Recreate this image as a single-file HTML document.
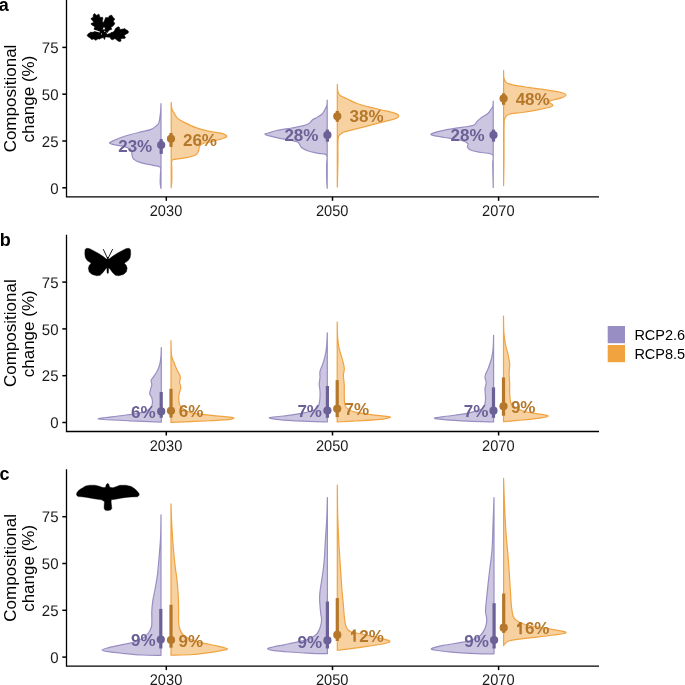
<!DOCTYPE html><html><head><meta charset="utf-8"><style>html,body{margin:0;padding:0;background:#fff;width:685px;height:685px;overflow:hidden}svg{display:block;will-change:transform}text{font-family:"Liberation Sans",sans-serif}</style></head><body>
<svg width="685" height="685" viewBox="0 0 685 685">
<rect width="685" height="685" fill="#fff"/>
<path d="M161.00,103.70 C160.92,105.22 160.85,109.65 160.50,112.80 C160.15,115.95 159.63,120.38 158.90,122.60 C158.17,124.82 157.50,124.93 156.10,126.10 C154.70,127.27 152.85,128.67 150.50,129.60 C148.15,130.53 145.28,130.88 142.00,131.70 C138.72,132.52 134.53,133.45 130.80,134.50 C127.07,135.55 122.63,136.90 119.60,138.00 C116.57,139.10 114.28,140.27 112.60,141.10 C110.92,141.93 109.50,142.45 109.50,143.00 C109.50,143.55 110.68,143.93 112.60,144.40 C114.52,144.87 118.43,145.22 121.00,145.80 C123.57,146.38 126.25,146.97 128.00,147.90 C129.75,148.83 130.83,150.23 131.50,151.40 C132.17,152.57 131.65,153.62 132.00,154.90 C132.35,156.18 132.17,157.82 133.60,159.10 C135.03,160.38 137.32,161.55 140.60,162.60 C143.88,163.65 150.02,164.58 153.30,165.40 C156.58,166.22 159.12,165.98 160.30,167.50 C161.48,169.02 160.42,171.93 160.40,174.50 C160.38,177.07 160.10,180.57 160.20,182.90 C160.30,185.23 160.87,187.57 161.00,188.50 Z" fill="#ccc6e1" stroke="#998ec3" stroke-width="1.2" stroke-linejoin="round"/>
<path d="M171.20,102.30 C171.33,103.47 171.40,107.32 172.00,109.30 C172.60,111.28 173.87,112.68 174.80,114.20 C175.73,115.72 175.97,117.00 177.60,118.40 C179.23,119.80 181.57,121.07 184.60,122.60 C187.63,124.13 191.60,126.13 195.80,127.60 C200.00,129.07 205.60,130.48 209.80,131.40 C214.00,132.32 218.18,132.33 221.00,133.10 C223.82,133.87 226.22,135.18 226.70,136.00 C227.18,136.82 226.23,137.12 223.90,138.00 C221.57,138.88 216.12,140.40 212.70,141.30 C209.28,142.20 205.58,142.58 203.40,143.40 C201.22,144.22 200.40,144.98 199.60,146.20 C198.80,147.42 199.23,149.25 198.60,150.70 C197.97,152.15 197.90,153.73 195.80,154.90 C193.70,156.07 189.27,157.00 186.00,157.70 C182.73,158.40 178.55,158.63 176.20,159.10 C173.85,159.57 172.63,158.87 171.90,160.50 C171.17,162.13 171.82,165.63 171.80,168.90 C171.78,172.17 171.90,176.95 171.80,180.10 C171.70,183.25 171.30,186.52 171.20,187.80 Z" fill="#f8d1a0" stroke="#f1a340" stroke-width="1.2" stroke-linejoin="round"/>
<path d="M327.20,100.10 C327.13,101.02 327.22,103.95 326.80,105.60 C326.38,107.25 325.53,108.55 324.70,110.00 C323.87,111.45 323.07,113.07 321.80,114.30 C320.53,115.53 318.63,116.48 317.10,117.40 C315.57,118.32 313.97,118.78 312.60,119.80 C311.23,120.82 310.38,122.52 308.90,123.50 C307.42,124.48 306.55,124.95 303.70,125.70 C300.85,126.45 296.27,127.20 291.80,128.00 C287.33,128.80 280.87,129.63 276.90,130.50 C272.93,131.37 269.98,132.58 268.00,133.20 C266.02,133.82 264.77,133.75 265.00,134.20 C265.23,134.65 266.92,135.20 269.40,135.90 C271.88,136.60 276.17,137.67 279.90,138.40 C283.63,139.13 288.83,139.68 291.80,140.30 C294.77,140.92 296.33,141.30 297.70,142.10 C299.07,142.90 299.25,144.10 300.00,145.10 C300.75,146.10 300.83,147.12 302.20,148.10 C303.57,149.08 305.47,150.13 308.20,151.00 C310.93,151.87 315.53,152.60 318.60,153.30 C321.67,154.00 325.27,153.35 326.60,155.20 C327.93,157.05 326.58,160.38 326.60,164.40 C326.62,168.42 326.60,175.32 326.70,179.30 C326.80,183.28 327.12,186.80 327.20,188.30 Z" fill="#ccc6e1" stroke="#998ec3" stroke-width="1.2" stroke-linejoin="round"/>
<path d="M337.30,84.30 C337.38,85.47 337.30,89.43 337.80,91.30 C338.30,93.17 338.77,94.25 340.30,95.50 C341.83,96.75 344.22,97.47 347.00,98.80 C349.78,100.13 353.40,102.17 357.00,103.50 C360.60,104.83 364.45,105.72 368.60,106.80 C372.75,107.88 377.73,108.98 381.90,110.00 C386.07,111.02 390.82,112.00 393.60,112.90 C396.38,113.80 398.33,114.42 398.60,115.40 C398.87,116.38 397.43,117.82 395.20,118.80 C392.97,119.78 388.80,120.37 385.20,121.30 C381.60,122.23 376.92,123.52 373.60,124.40 C370.28,125.28 368.90,125.68 365.30,126.60 C361.70,127.52 355.80,128.87 352.00,129.90 C348.20,130.93 344.73,131.75 342.50,132.80 C340.27,133.85 339.37,134.23 338.60,136.20 C337.83,138.17 338.02,140.43 337.90,144.60 C337.78,148.77 338.00,154.13 337.90,161.20 C337.80,168.27 337.40,182.70 337.30,187.00 Z" fill="#f8d1a0" stroke="#f1a340" stroke-width="1.2" stroke-linejoin="round"/>
<path d="M493.20,101.20 C493.13,102.07 493.25,104.92 492.80,106.40 C492.35,107.88 491.37,108.87 490.50,110.10 C489.63,111.33 489.08,112.57 487.60,113.80 C486.12,115.03 483.35,116.25 481.60,117.50 C479.85,118.75 478.33,120.05 477.10,121.30 C475.87,122.55 475.68,124.13 474.20,125.00 C472.72,125.87 471.43,125.93 468.20,126.50 C464.97,127.07 459.27,127.67 454.80,128.40 C450.33,129.13 445.37,129.93 441.40,130.90 C437.43,131.87 431.75,133.32 431.00,134.20 C430.25,135.08 433.68,135.50 436.90,136.20 C440.12,136.90 446.08,137.67 450.30,138.40 C454.52,139.13 459.27,139.73 462.20,140.60 C465.13,141.47 467.02,142.48 467.90,143.60 C468.78,144.72 466.95,146.18 467.50,147.30 C468.05,148.42 468.85,149.43 471.20,150.30 C473.55,151.17 478.03,151.75 481.60,152.50 C485.17,153.25 490.75,152.82 492.60,154.80 C494.45,156.78 492.60,158.95 492.70,164.40 C492.80,169.85 493.12,183.65 493.20,187.50 Z" fill="#ccc6e1" stroke="#998ec3" stroke-width="1.2" stroke-linejoin="round"/>
<path d="M503.60,70.60 C503.65,71.83 503.45,76.00 503.90,78.00 C504.35,80.00 504.82,81.45 506.30,82.60 C507.78,83.75 509.23,84.10 512.80,84.90 C516.37,85.70 522.43,86.60 527.70,87.40 C532.97,88.20 539.15,88.93 544.40,89.70 C549.65,90.47 555.60,91.13 559.20,92.00 C562.80,92.87 565.65,93.92 566.00,94.90 C566.35,95.88 563.72,96.98 561.30,97.90 C558.88,98.82 553.55,99.68 551.50,100.40 C549.45,101.12 548.78,101.43 549.00,102.20 C549.22,102.97 552.55,104.20 552.80,105.00 C553.05,105.80 552.83,106.23 550.50,107.00 C548.17,107.77 543.53,108.68 538.80,109.60 C534.07,110.52 527.05,111.73 522.10,112.50 C517.15,113.27 511.95,113.30 509.10,114.20 C506.25,115.10 505.83,116.20 505.00,117.90 C504.17,119.60 504.27,117.75 504.10,124.40 C503.93,131.05 504.08,147.60 504.00,157.80 C503.92,168.00 503.67,180.97 503.60,185.60 Z" fill="#f8d1a0" stroke="#f1a340" stroke-width="1.2" stroke-linejoin="round"/>
<rect x="159.60" y="139.10" width="3.2" height="14.80" fill="#6b6197"/>
<circle cx="161.20" cy="145.00" r="4.1" fill="#6b6197"/>
<rect x="169.40" y="133.00" width="3.2" height="13.90" fill="#b5782a"/>
<circle cx="171.00" cy="138.80" r="4.1" fill="#b5782a"/>
<rect x="325.80" y="129.60" width="3.2" height="12.10" fill="#6b6197"/>
<circle cx="327.40" cy="135.00" r="4.1" fill="#6b6197"/>
<rect x="335.70" y="110.90" width="3.2" height="10.90" fill="#b5782a"/>
<circle cx="337.30" cy="116.30" r="4.1" fill="#b5782a"/>
<rect x="491.90" y="129.60" width="3.2" height="12.00" fill="#6b6197"/>
<circle cx="493.50" cy="135.00" r="4.1" fill="#6b6197"/>
<rect x="502.00" y="93.30" width="3.2" height="11.50" fill="#b5782a"/>
<circle cx="503.60" cy="98.50" r="4.1" fill="#b5782a"/>
<text x="118.20" y="151.85" font-size="17" font-weight="700" fill="#6b6197">23%</text>
<text x="182.95" y="145.75" font-size="17" font-weight="700" fill="#b5782a">26%</text>
<text x="284.40" y="141.40" font-size="17" font-weight="700" fill="#6b6197">28%</text>
<text x="349.60" y="122.10" font-size="17" font-weight="700" fill="#b5782a">38%</text>
<text x="450.55" y="141.40" font-size="17" font-weight="700" fill="#6b6197">28%</text>
<text x="515.65" y="105.00" font-size="17" font-weight="700" fill="#b5782a">48%</text>
<path d="M66.5,0.00 V196.80 H599" fill="none" stroke="#000" stroke-width="1.3" stroke-linecap="butt" stroke-linejoin="miter"/>
<line x1="62.3" y1="187.80" x2="66.5" y2="187.80" stroke="#000" stroke-width="1.5"/>
<text transform="translate(58.5,193.55) scale(1,1.03)" text-rendering="geometricPrecision" font-size="15" text-anchor="end" fill="#1a1a1a">0</text>
<line x1="62.3" y1="141.00" x2="66.5" y2="141.00" stroke="#000" stroke-width="1.5"/>
<text transform="translate(58.5,146.75) scale(1,1.03)" text-rendering="geometricPrecision" font-size="15" text-anchor="end" fill="#1a1a1a">25</text>
<line x1="62.3" y1="94.20" x2="66.5" y2="94.20" stroke="#000" stroke-width="1.5"/>
<text transform="translate(58.5,99.95) scale(1,1.03)" text-rendering="geometricPrecision" font-size="15" text-anchor="end" fill="#1a1a1a">50</text>
<line x1="62.3" y1="47.40" x2="66.5" y2="47.40" stroke="#000" stroke-width="1.5"/>
<text transform="translate(58.5,53.15) scale(1,1.03)" text-rendering="geometricPrecision" font-size="15" text-anchor="end" fill="#1a1a1a">75</text>
<line x1="166.3" y1="196.80" x2="166.3" y2="200.80" stroke="#000" stroke-width="1.5"/>
<text transform="translate(166.00,215.80) scale(0.975,1.03)" text-rendering="geometricPrecision" font-size="15" text-anchor="middle" fill="#1a1a1a">2030</text>
<line x1="332.5" y1="196.80" x2="332.5" y2="200.80" stroke="#000" stroke-width="1.5"/>
<text transform="translate(332.20,215.80) scale(0.975,1.03)" text-rendering="geometricPrecision" font-size="15" text-anchor="middle" fill="#1a1a1a">2050</text>
<line x1="498.6" y1="196.80" x2="498.6" y2="200.80" stroke="#000" stroke-width="1.5"/>
<text transform="translate(498.30,215.80) scale(0.975,1.03)" text-rendering="geometricPrecision" font-size="15" text-anchor="middle" fill="#1a1a1a">2070</text>
<text transform="translate(15.8,98.50) rotate(-90)" font-size="17" text-anchor="middle" fill="#000">Compositional</text>
<text transform="translate(34.2,99.10) rotate(-90)" font-size="17" text-anchor="middle" fill="#000">change (%)</text>
<text x="-1.3" y="10.80" font-size="18" font-weight="700" fill="#000">a</text>
<path d="M161.30,347.60 C161.23,349.18 161.18,354.20 160.90,357.10 C160.62,360.00 160.25,362.60 159.60,365.00 C158.95,367.40 158.08,369.43 157.00,371.50 C155.92,373.57 154.08,375.87 153.10,377.40 C152.12,378.93 151.32,379.48 151.10,380.70 C150.88,381.92 151.92,383.17 151.80,384.70 C151.68,386.23 150.73,388.37 150.40,389.90 C150.07,391.43 149.57,392.58 149.80,393.90 C150.03,395.22 151.37,396.27 151.80,397.80 C152.23,399.33 152.63,401.35 152.40,403.10 C152.17,404.85 152.03,406.77 150.40,408.30 C148.77,409.83 147.20,411.10 142.60,412.30 C138.00,413.50 128.93,414.63 122.80,415.50 C116.67,416.37 109.85,416.98 105.80,417.50 C101.75,418.02 98.95,418.27 98.50,418.60 C98.05,418.93 97.95,419.13 103.10,419.50 C108.25,419.87 119.70,420.37 129.40,420.80 C139.10,421.23 155.98,421.88 161.30,422.10 Z" fill="#ccc6e1" stroke="#998ec3" stroke-width="1.2" stroke-linejoin="round"/>
<path d="M171.00,340.50 C171.10,343.05 171.08,352.10 171.60,355.80 C172.12,359.50 173.22,360.38 174.10,362.70 C174.98,365.02 175.87,367.38 176.90,369.70 C177.93,372.02 179.85,374.52 180.30,376.60 C180.75,378.68 179.52,380.35 179.60,382.20 C179.68,384.05 180.90,385.63 180.80,387.70 C180.70,389.77 179.30,392.28 179.00,394.60 C178.70,396.92 178.67,399.52 179.00,401.60 C179.33,403.68 179.05,405.25 181.00,407.10 C182.95,408.95 185.62,411.32 190.70,412.70 C195.78,414.08 205.02,414.67 211.50,415.40 C217.98,416.13 225.90,416.63 229.60,417.10 C233.30,417.57 233.93,417.78 233.70,418.20 C233.47,418.62 233.05,419.13 228.20,419.60 C223.35,420.07 214.13,420.53 204.60,421.00 C195.07,421.47 176.60,422.17 171.00,422.40 Z" fill="#f8d1a0" stroke="#f1a340" stroke-width="1.2" stroke-linejoin="round"/>
<path d="M327.30,332.80 C327.17,335.22 326.90,343.28 326.50,347.30 C326.10,351.32 325.58,353.95 324.90,356.90 C324.22,359.85 323.22,362.58 322.40,365.00 C321.58,367.42 320.40,369.27 320.00,371.40 C319.60,373.53 320.13,375.67 320.00,377.80 C319.87,379.93 319.20,382.05 319.20,384.20 C319.20,386.35 319.87,388.55 320.00,390.70 C320.13,392.85 320.13,394.97 320.00,397.10 C319.87,399.23 319.87,401.50 319.20,403.50 C318.53,405.50 318.67,407.50 316.00,409.10 C313.33,410.70 308.55,411.95 303.20,413.10 C297.85,414.25 289.52,415.25 283.90,416.00 C278.28,416.75 270.30,417.00 269.50,417.60 C268.70,418.20 273.48,419.00 279.10,419.60 C284.72,420.20 295.17,420.80 303.20,421.20 C311.23,421.60 323.28,421.87 327.30,422.00 Z" fill="#ccc6e1" stroke="#998ec3" stroke-width="1.2" stroke-linejoin="round"/>
<path d="M337.20,322.00 C337.27,324.47 337.27,332.37 337.60,336.80 C337.93,341.23 338.37,344.68 339.20,348.60 C340.03,352.52 341.75,356.95 342.60,360.30 C343.45,363.65 344.17,366.18 344.30,368.70 C344.43,371.22 343.40,372.60 343.40,375.40 C343.40,378.20 344.15,382.15 344.30,385.50 C344.45,388.85 344.08,392.00 344.30,395.50 C344.52,399.00 343.78,403.72 345.60,406.50 C347.42,409.28 349.97,410.73 355.20,412.20 C360.43,413.67 371.13,414.50 377.00,415.30 C382.87,416.10 389.85,416.32 390.40,417.00 C390.95,417.68 386.17,418.73 380.30,419.40 C374.43,420.07 362.38,420.57 355.20,421.00 C348.02,421.43 340.20,421.83 337.20,422.00 Z" fill="#f8d1a0" stroke="#f1a340" stroke-width="1.2" stroke-linejoin="round"/>
<path d="M493.60,335.30 C493.52,337.57 493.45,345.03 493.10,348.90 C492.75,352.77 492.30,355.28 491.50,358.50 C490.70,361.72 489.30,365.52 488.30,368.20 C487.30,370.88 486.05,373.00 485.50,374.60 C484.95,376.20 484.88,376.47 485.00,377.80 C485.12,379.13 486.20,380.72 486.20,382.60 C486.20,384.48 485.12,386.68 485.00,389.10 C484.88,391.52 485.50,394.70 485.50,397.10 C485.50,399.50 485.62,401.50 485.00,403.50 C484.38,405.50 484.60,407.50 481.80,409.10 C479.00,410.70 473.68,411.95 468.20,413.10 C462.72,414.25 454.52,415.18 448.90,416.00 C443.28,416.82 435.30,417.40 434.50,418.00 C433.70,418.60 438.48,419.07 444.10,419.60 C449.72,420.13 459.95,420.80 468.20,421.20 C476.45,421.60 489.37,421.87 493.60,422.00 Z" fill="#ccc6e1" stroke="#998ec3" stroke-width="1.2" stroke-linejoin="round"/>
<path d="M503.50,316.10 C503.57,318.88 503.55,327.98 503.90,332.80 C504.25,337.62 504.87,341.22 505.60,345.00 C506.33,348.78 507.62,352.28 508.30,355.50 C508.98,358.72 509.57,361.38 509.70,364.30 C509.83,367.22 509.10,369.78 509.10,373.00 C509.10,376.22 509.60,380.08 509.70,383.60 C509.80,387.12 509.35,390.60 509.70,394.10 C510.05,397.60 509.70,401.83 511.80,404.60 C513.90,407.37 517.63,409.10 522.30,410.70 C526.97,412.30 535.48,413.32 539.80,414.20 C544.12,415.08 548.20,415.33 548.20,416.00 C548.20,416.67 544.12,417.53 539.80,418.20 C535.48,418.87 528.35,419.42 522.30,420.00 C516.25,420.58 506.63,421.42 503.50,421.70 Z" fill="#f8d1a0" stroke="#f1a340" stroke-width="1.2" stroke-linejoin="round"/>
<rect x="159.60" y="392.00" width="3.2" height="25.80" fill="#6b6197"/>
<circle cx="161.20" cy="411.40" r="4.1" fill="#6b6197"/>
<rect x="169.40" y="388.80" width="3.2" height="28.80" fill="#b5782a"/>
<circle cx="171.00" cy="410.80" r="4.1" fill="#b5782a"/>
<rect x="325.80" y="386.00" width="3.2" height="31.80" fill="#6b6197"/>
<circle cx="327.40" cy="410.50" r="4.1" fill="#6b6197"/>
<rect x="335.60" y="380.10" width="3.2" height="37.00" fill="#b5782a"/>
<circle cx="337.20" cy="408.80" r="4.1" fill="#b5782a"/>
<rect x="491.90" y="387.40" width="3.2" height="30.40" fill="#6b6197"/>
<circle cx="493.50" cy="410.70" r="4.1" fill="#6b6197"/>
<rect x="501.90" y="377.40" width="3.2" height="38.30" fill="#b5782a"/>
<circle cx="503.50" cy="406.30" r="4.1" fill="#b5782a"/>
<text x="131.00" y="417.75" font-size="17" font-weight="700" fill="#6b6197">6%</text>
<text x="178.85" y="417.00" font-size="17" font-weight="700" fill="#b5782a">6%</text>
<text x="297.40" y="416.60" font-size="17" font-weight="700" fill="#6b6197">7%</text>
<text x="344.50" y="415.40" font-size="17" font-weight="700" fill="#b5782a">7%</text>
<text x="463.70" y="416.60" font-size="17" font-weight="700" fill="#6b6197">7%</text>
<text x="510.90" y="412.80" font-size="17" font-weight="700" fill="#b5782a">9%</text>
<path d="M66.5,234.70 V431.50 H599" fill="none" stroke="#000" stroke-width="1.3" stroke-linecap="butt" stroke-linejoin="miter"/>
<line x1="62.3" y1="422.50" x2="66.5" y2="422.50" stroke="#000" stroke-width="1.5"/>
<text transform="translate(58.5,428.25) scale(1,1.03)" text-rendering="geometricPrecision" font-size="15" text-anchor="end" fill="#1a1a1a">0</text>
<line x1="62.3" y1="375.70" x2="66.5" y2="375.70" stroke="#000" stroke-width="1.5"/>
<text transform="translate(58.5,381.45) scale(1,1.03)" text-rendering="geometricPrecision" font-size="15" text-anchor="end" fill="#1a1a1a">25</text>
<line x1="62.3" y1="328.90" x2="66.5" y2="328.90" stroke="#000" stroke-width="1.5"/>
<text transform="translate(58.5,334.65) scale(1,1.03)" text-rendering="geometricPrecision" font-size="15" text-anchor="end" fill="#1a1a1a">50</text>
<line x1="62.3" y1="282.10" x2="66.5" y2="282.10" stroke="#000" stroke-width="1.5"/>
<text transform="translate(58.5,287.85) scale(1,1.03)" text-rendering="geometricPrecision" font-size="15" text-anchor="end" fill="#1a1a1a">75</text>
<line x1="166.3" y1="431.50" x2="166.3" y2="435.50" stroke="#000" stroke-width="1.5"/>
<text transform="translate(166.00,450.50) scale(0.975,1.03)" text-rendering="geometricPrecision" font-size="15" text-anchor="middle" fill="#1a1a1a">2030</text>
<line x1="332.5" y1="431.50" x2="332.5" y2="435.50" stroke="#000" stroke-width="1.5"/>
<text transform="translate(332.20,450.50) scale(0.975,1.03)" text-rendering="geometricPrecision" font-size="15" text-anchor="middle" fill="#1a1a1a">2050</text>
<line x1="498.6" y1="431.50" x2="498.6" y2="435.50" stroke="#000" stroke-width="1.5"/>
<text transform="translate(498.30,450.50) scale(0.975,1.03)" text-rendering="geometricPrecision" font-size="15" text-anchor="middle" fill="#1a1a1a">2070</text>
<text transform="translate(15.8,333.20) rotate(-90)" font-size="17" text-anchor="middle" fill="#000">Compositional</text>
<text transform="translate(34.2,333.80) rotate(-90)" font-size="17" text-anchor="middle" fill="#000">change (%)</text>
<text x="-0.2" y="245.50" font-size="18" font-weight="700" fill="#000">b</text>
<path d="M161.00,514.90 C160.93,518.58 160.90,530.20 160.60,537.00 C160.30,543.80 159.72,549.47 159.20,555.70 C158.68,561.93 158.17,568.93 157.50,574.40 C156.83,579.87 155.97,584.22 155.20,588.50 C154.43,592.78 153.47,596.30 152.90,600.10 C152.33,603.90 151.97,607.72 151.80,611.30 C151.63,614.88 151.97,618.98 151.90,621.60 C151.83,624.22 151.93,625.18 151.40,627.00 C150.87,628.82 150.07,630.67 148.70,632.50 C147.33,634.33 145.77,636.35 143.20,638.00 C140.63,639.65 137.13,641.22 133.30,642.40 C129.47,643.58 124.40,644.20 120.20,645.10 C116.00,646.00 111.12,646.98 108.10,647.80 C105.08,648.62 102.10,649.35 102.10,650.00 C102.10,650.65 104.72,651.15 108.10,651.70 C111.48,652.25 116.73,652.75 122.40,653.30 C128.07,653.85 135.67,654.67 142.10,655.00 C148.53,655.33 157.85,655.25 161.00,655.30 Z" fill="#ccc6e1" stroke="#998ec3" stroke-width="1.2" stroke-linejoin="round"/>
<path d="M171.00,503.90 C171.13,507.48 171.43,518.32 171.80,525.40 C172.17,532.48 172.67,539.78 173.20,546.40 C173.73,553.02 174.38,559.65 175.00,565.10 C175.62,570.55 176.38,574.43 176.90,579.10 C177.42,583.77 177.82,588.43 178.10,593.10 C178.38,597.77 178.52,602.35 178.60,607.10 C178.68,611.85 178.50,618.28 178.60,621.60 C178.70,624.92 178.83,625.37 179.20,627.00 C179.57,628.63 179.98,629.93 180.80,631.40 C181.62,632.87 182.82,634.62 184.10,635.80 C185.38,636.98 186.50,637.58 188.50,638.50 C190.50,639.42 193.18,640.43 196.10,641.30 C199.02,642.17 202.35,642.88 206.00,643.70 C209.65,644.52 214.45,645.33 218.00,646.20 C221.55,647.07 226.75,648.17 227.30,648.90 C227.85,649.63 224.30,649.98 221.30,650.60 C218.30,651.22 214.05,651.95 209.30,652.60 C204.55,653.25 199.18,654.07 192.80,654.50 C186.42,654.93 174.63,655.08 171.00,655.20 Z" fill="#f8d1a0" stroke="#f1a340" stroke-width="1.2" stroke-linejoin="round"/>
<path d="M327.40,497.50 C327.28,501.22 327.03,512.78 326.70,519.80 C326.37,526.82 325.80,532.98 325.40,539.60 C325.00,546.22 324.77,553.70 324.30,559.50 C323.83,565.30 323.27,569.43 322.60,574.40 C321.93,579.37 320.80,585.17 320.30,589.30 C319.80,593.43 319.52,595.07 319.60,599.20 C319.68,603.33 320.48,610.97 320.80,614.10 C321.12,617.23 321.45,616.35 321.50,618.00 C321.55,619.65 321.53,621.90 321.10,624.00 C320.67,626.10 319.80,628.77 318.90,630.60 C318.00,632.43 317.52,633.53 315.70,635.00 C313.88,636.47 311.12,638.22 308.00,639.40 C304.88,640.58 301.02,641.20 297.00,642.10 C292.98,643.00 287.90,643.98 283.90,644.80 C279.90,645.62 275.73,646.35 273.00,647.00 C270.27,647.65 267.50,648.15 267.50,648.70 C267.50,649.25 269.35,649.75 273.00,650.30 C276.65,650.85 283.02,651.48 289.40,652.00 C295.78,652.52 304.97,653.12 311.30,653.40 C317.63,653.68 324.72,653.65 327.40,653.70 Z" fill="#ccc6e1" stroke="#998ec3" stroke-width="1.2" stroke-linejoin="round"/>
<path d="M337.30,485.10 C337.37,490.05 337.47,505.72 337.70,514.80 C337.93,523.88 338.28,531.33 338.70,539.60 C339.12,547.87 339.67,556.12 340.20,564.40 C340.73,572.68 341.37,582.50 341.90,589.30 C342.43,596.10 343.02,600.85 343.40,605.20 C343.78,609.55 343.80,611.98 344.20,615.40 C344.60,618.82 344.85,623.03 345.80,625.70 C346.75,628.37 347.17,629.98 349.90,631.40 C352.63,632.82 357.43,633.12 362.20,634.20 C366.97,635.28 373.90,636.77 378.50,637.90 C383.10,639.03 389.12,639.98 389.80,641.00 C390.48,642.02 387.20,642.98 382.60,644.00 C378.00,645.02 369.75,646.07 362.20,647.10 C354.65,648.13 341.45,649.68 337.30,650.20 Z" fill="#f8d1a0" stroke="#f1a340" stroke-width="1.2" stroke-linejoin="round"/>
<path d="M494.00,497.60 C493.85,501.75 493.42,513.97 493.10,522.50 C492.78,531.03 492.67,540.92 492.10,548.80 C491.53,556.68 490.40,563.67 489.70,569.80 C489.00,575.93 488.47,580.35 487.90,585.60 C487.33,590.85 486.70,597.02 486.30,601.30 C485.90,605.58 485.43,608.42 485.50,611.30 C485.57,614.18 486.60,616.30 486.70,618.60 C486.80,620.90 486.57,623.10 486.10,625.10 C485.63,627.10 484.98,628.77 483.90,630.60 C482.82,632.43 481.78,634.45 479.60,636.10 C477.42,637.75 474.10,639.40 470.80,640.50 C467.50,641.60 464.37,641.88 459.80,642.70 C455.23,643.52 448.13,644.40 443.40,645.40 C438.67,646.40 432.30,647.85 431.40,648.70 C430.50,649.55 434.17,649.90 438.00,650.50 C441.83,651.10 448.02,651.78 454.40,652.30 C460.78,652.82 469.70,653.35 476.30,653.60 C482.90,653.85 491.05,653.77 494.00,653.80 Z" fill="#ccc6e1" stroke="#998ec3" stroke-width="1.2" stroke-linejoin="round"/>
<path d="M503.60,478.40 C503.78,483.57 504.27,499.85 504.70,509.40 C505.13,518.95 505.63,527.82 506.20,535.70 C506.77,543.58 507.57,550.13 508.10,556.70 C508.63,563.27 508.97,568.53 509.40,575.10 C509.83,581.67 510.30,590.42 510.70,596.10 C511.10,601.78 511.20,605.50 511.80,609.20 C512.40,612.90 512.18,615.80 514.30,618.30 C516.42,620.80 518.75,622.43 524.50,624.20 C530.25,625.97 541.90,627.55 548.80,628.90 C555.70,630.25 565.02,631.28 565.90,632.30 C566.78,633.32 560.45,634.03 554.10,635.00 C547.75,635.97 535.25,637.15 527.80,638.10 C520.35,639.05 513.43,639.47 509.40,640.70 C505.37,641.93 504.57,644.70 503.60,645.50 Z" fill="#f8d1a0" stroke="#f1a340" stroke-width="1.2" stroke-linejoin="round"/>
<rect x="159.20" y="608.90" width="3.2" height="39.60" fill="#6b6197"/>
<circle cx="160.80" cy="639.60" r="4.1" fill="#6b6197"/>
<rect x="169.40" y="604.80" width="3.2" height="42.90" fill="#b5782a"/>
<circle cx="171.00" cy="640.00" r="4.1" fill="#b5782a"/>
<rect x="325.80" y="601.50" width="3.2" height="47.00" fill="#6b6197"/>
<circle cx="327.40" cy="640.40" r="4.1" fill="#6b6197"/>
<rect x="335.70" y="598.10" width="3.2" height="42.90" fill="#b5782a"/>
<circle cx="337.30" cy="634.90" r="4.1" fill="#b5782a"/>
<rect x="492.50" y="603.20" width="3.2" height="45.30" fill="#6b6197"/>
<circle cx="494.10" cy="640.00" r="4.1" fill="#6b6197"/>
<rect x="502.10" y="593.50" width="3.2" height="39.40" fill="#b5782a"/>
<circle cx="503.70" cy="627.70" r="4.1" fill="#b5782a"/>
<text x="131.05" y="646.20" font-size="17" font-weight="700" fill="#6b6197">9%</text>
<text x="178.45" y="646.60" font-size="17" font-weight="700" fill="#b5782a">9%</text>
<text x="297.55" y="647.65" font-size="17" font-weight="700" fill="#6b6197">9%</text>
<path d="M353.40,629.60 L355.80,629.60 L355.80,641.80 L353.40,641.80 L353.40,634.30 L351.00,634.90 L351.00,632.70 Q352.60,631.60 353.40,629.60 Z" fill="#b5782a"/>
<text x="359.30" y="641.80" font-size="17" font-weight="700" fill="#b5782a">2%</text>
<text x="464.30" y="647.25" font-size="17" font-weight="700" fill="#6b6197">9%</text>
<path d="M519.40,622.00 L521.80,622.00 L521.80,634.20 L519.40,634.20 L519.40,626.70 L517.00,627.30 L517.00,625.10 Q518.60,624.00 519.40,622.00 Z" fill="#b5782a"/>
<text x="524.90" y="634.20" font-size="17" font-weight="700" fill="#b5782a">6%</text>
<path d="M66.5,469.30 V666.10 H599" fill="none" stroke="#000" stroke-width="1.3" stroke-linecap="butt" stroke-linejoin="miter"/>
<line x1="62.3" y1="657.10" x2="66.5" y2="657.10" stroke="#000" stroke-width="1.5"/>
<text transform="translate(58.5,662.85) scale(1,1.03)" text-rendering="geometricPrecision" font-size="15" text-anchor="end" fill="#1a1a1a">0</text>
<line x1="62.3" y1="610.30" x2="66.5" y2="610.30" stroke="#000" stroke-width="1.5"/>
<text transform="translate(58.5,616.05) scale(1,1.03)" text-rendering="geometricPrecision" font-size="15" text-anchor="end" fill="#1a1a1a">25</text>
<line x1="62.3" y1="563.50" x2="66.5" y2="563.50" stroke="#000" stroke-width="1.5"/>
<text transform="translate(58.5,569.25) scale(1,1.03)" text-rendering="geometricPrecision" font-size="15" text-anchor="end" fill="#1a1a1a">50</text>
<line x1="62.3" y1="516.70" x2="66.5" y2="516.70" stroke="#000" stroke-width="1.5"/>
<text transform="translate(58.5,522.45) scale(1,1.03)" text-rendering="geometricPrecision" font-size="15" text-anchor="end" fill="#1a1a1a">75</text>
<line x1="166.3" y1="666.10" x2="166.3" y2="670.10" stroke="#000" stroke-width="1.5"/>
<text transform="translate(166.00,685.10) scale(0.975,1.03)" text-rendering="geometricPrecision" font-size="15" text-anchor="middle" fill="#1a1a1a">2030</text>
<line x1="332.5" y1="666.10" x2="332.5" y2="670.10" stroke="#000" stroke-width="1.5"/>
<text transform="translate(332.20,685.10) scale(0.975,1.03)" text-rendering="geometricPrecision" font-size="15" text-anchor="middle" fill="#1a1a1a">2050</text>
<line x1="498.6" y1="666.10" x2="498.6" y2="670.10" stroke="#000" stroke-width="1.5"/>
<text transform="translate(498.30,685.10) scale(0.975,1.03)" text-rendering="geometricPrecision" font-size="15" text-anchor="middle" fill="#1a1a1a">2070</text>
<text transform="translate(15.8,567.80) rotate(-90)" font-size="17" text-anchor="middle" fill="#000">Compositional</text>
<text transform="translate(34.2,568.40) rotate(-90)" font-size="17" text-anchor="middle" fill="#000">change (%)</text>
<text x="-0.5" y="480.10" font-size="18" font-weight="700" fill="#000">c</text>
<path d="M87.1,35.5 L88.2,33.7 L89.9,32.7 L90.8,32.1 L92.4,32.3 L93.7,31.9 L94.7,31.2 L96.5,31.7 L99.6,32.5 L97.4,30.6 L95.4,29.9 L94.2,29.6 L94.0,28.3 L95.0,27.4 L93.7,26.1 L91.5,24.8 L91.0,23.5 L92.4,22.9 L93.7,22.2 L92.4,20.6 L91.1,19.3 L91.3,18.1 L93.1,17.6 L93.2,15.8 L93.7,14.1 L94.7,13.6 L95.6,14.5 L96.9,15.5 L97.9,14.4 L99.0,14.2 L99.5,15.5 L99.8,17.1 L101.1,17.4 L102.4,17.1 L102.9,18.4 L102.5,20.3 L102.4,21.9 L103.4,22.4 L104.2,21.0 L105.2,18.7 L105.5,17.6 L106.8,17.4 L108.3,17.7 L109.1,16.1 L110.3,15.5 L111.5,15.0 L112.3,16.1 L113.1,17.6 L114.4,18.4 L114.5,20.0 L113.2,21.0 L113.6,21.9 L114.8,22.9 L114.5,24.2 L113.0,26.1 L110.9,27.5 L112.0,29.2 L109.6,30.1 L107.6,31.9 L106.5,33.9 L109.8,33.4 L111.7,32.0 L113.0,32.2 L114.4,30.7 L115.5,28.6 L117.2,27.2 L119.0,26.8 L119.7,27.9 L119.8,29.6 L121.4,29.3 L123.5,28.9 L124.9,28.4 L125.6,29.6 L127.4,30.3 L128.6,31.7 L128.1,33.1 L126.0,34.2 L124.2,35.2 L124.9,36.6 L125.6,37.7 L124.6,38.5 L122.5,38.4 L120.7,38.7 L121.1,40.5 L120.4,41.5 L119.0,41.5 L117.2,40.5 L115.8,39.1 L114.1,38.7 L113.4,39.6 L112.0,39.8 L110.6,38.7 L110.2,37.3 L108.5,37.3 L107.1,37.0 L105.3,36.9 L104.9,38.8 L104.5,39.6 L104.0,38.8 L103.3,37.6 L102.1,37.9 L100.8,38.2 L99.5,39.2 L98.2,38.8 L96.9,39.5 L96.0,40.3 L95.0,40.1 L94.0,38.8 L92.4,39.5 L91.1,39.2 L90.2,37.9 L88.9,37.2 L87.6,36.3 Z" fill="#000" stroke="#000" stroke-width="0.5" stroke-linejoin="round"/><path d="M102.6,29.4 L104.0,26.8 L105.3,29.2 Z" fill="#fff"/><ellipse cx="104.7" cy="31.3" rx="0.6" ry="0.5" fill="#fff"/><ellipse cx="101.6" cy="33.9" rx="0.45" ry="0.6" fill="#fff"/><ellipse cx="106.3" cy="32.3" rx="0.4" ry="0.4" fill="#fff"/><path d="M94.6,30.5 L99.6,31.9 M107.2,33.8 L113.6,30.4" stroke="#fff" stroke-width="0.85" stroke-linecap="round" fill="none"/><path d="M106.4,259.1 L103.3,256.6 L98.7,253.5 L94.0,250.9 L89.2,248.5 L86.4,248.3 L85.0,249.7 L84.8,254.0 L85.4,257.8 L87.3,260.6 L90.2,262.5 L91.1,263.3 L89.2,265.4 L88.3,268.2 L89.2,272.0 L92.1,274.4 L96.8,275.8 L100.1,275.3 L103.0,272.5 L105.4,269.2 L106.8,267.7 L107.1,273.0 L107.7,273.4 L108.4,273.0 L108.7,267.7 L110.1,269.2 L112.5,272.5 L115.4,275.3 L118.7,275.8 L123.4,274.4 L126.3,272.0 L127.2,268.2 L126.3,265.4 L124.4,263.3 L125.3,262.5 L128.2,260.6 L130.1,257.8 L130.7,254.0 L130.5,249.7 L129.1,248.3 L126.3,248.5 L121.5,250.9 L116.8,253.5 L112.2,256.6 L109.1,259.1 Z" fill="#000" stroke="#000" stroke-width="0.4" stroke-linejoin="round"/><path d="M107.3,257.8 L103.4,249.5 M108.3,257.8 L112.5,249.5" stroke="#000" stroke-width="0.9" fill="none" stroke-linecap="round"/><ellipse cx="107.8" cy="258.2" rx="0.9" ry="1.1" fill="#000"/><path d="M107.8,483.2 L108.9,484.5 L109.7,487.2 L112.9,487.8 L116.6,486.5 L119.7,485.3 L126.0,485.2 L131.3,486.5 L134.4,488.6 L137.1,490.9 L138.9,493.3 L139.3,495.0 L137.6,496.8 L131.3,496.9 L126.0,497.4 L120.8,498.2 L115.5,499.2 L111.3,499.8 L111.1,502.1 L111.6,506.0 L111.8,508.4 L110.6,510.1 L107.8,510.6 L105.3,510.2 L104.1,508.4 L104.2,505.0 L104.4,501.5 L101.5,499.8 L97.6,499.3 L92.4,498.4 L87.1,497.4 L81.9,496.8 L78.3,496.6 L77.0,495.7 L76.5,494.4 L76.8,492.8 L78.6,490.5 L80.5,489.1 L82.4,487.9 L85.6,486.0 L89.8,485.2 L95.0,485.2 L99.2,486.2 L102.9,487.5 L105.4,487.5 L106.3,484.6 Z" fill="#000" stroke="#000" stroke-width="0.4" stroke-linejoin="round"/>
<rect x="607.7" y="326" width="17.3" height="17.2" fill="#998ec3"/>
<rect x="607.7" y="345" width="17.3" height="17.2" fill="#f1a340"/>
<text x="634.4" y="339.8" font-size="14.5" fill="#000">RCP2.6</text>
<text x="634.4" y="358.7" font-size="14.5" fill="#000">RCP8.5</text>
</svg></body></html>
